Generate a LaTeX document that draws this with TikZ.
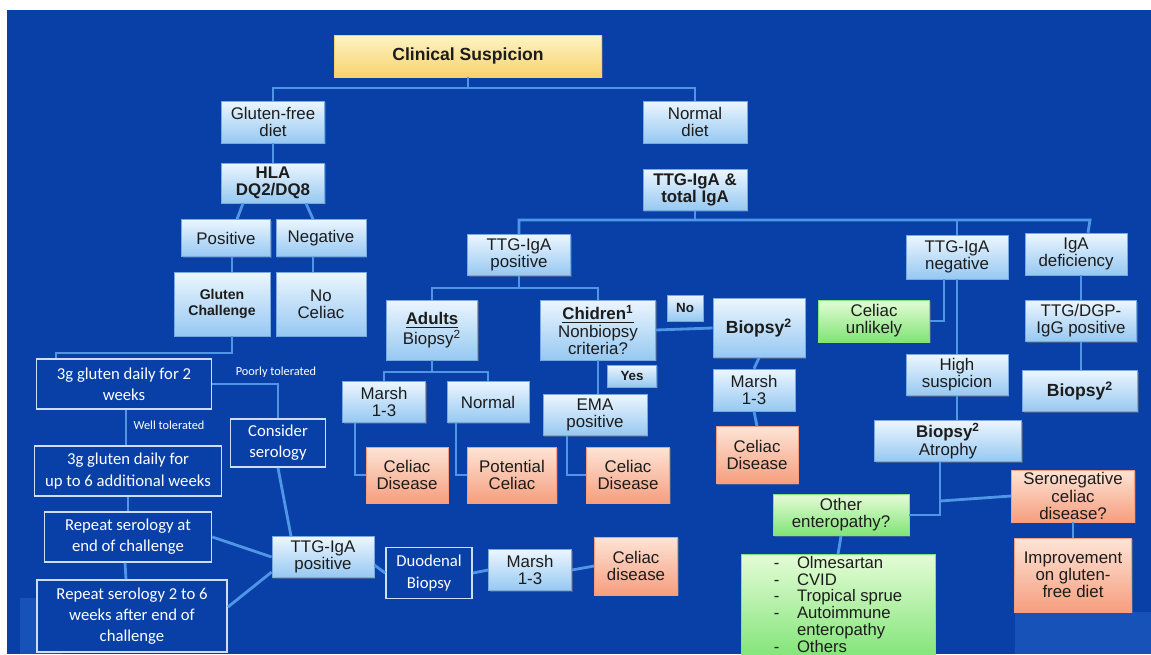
\documentclass[tikz,border=0pt]{standalone}
\usepackage{fontspec}
\setmainfont{Liberation Sans}
\newfontfamily\cfont{Carlito}
\usetikzlibrary{shadows}

\newcommand{\pxu}{0.02cm}
\definecolor{bgblue}{RGB}{9,64,168}
\definecolor{fadeblue}{RGB}{22,82,184}
\definecolor{linkblue}{RGB}{80,150,230}
\definecolor{boxtop}{RGB}{236,246,254}
\definecolor{boxbot}{RGB}{150,200,242}
\definecolor{boxline}{RGB}{120,170,225}
\definecolor{saltop}{RGB}{253,228,214}
\definecolor{salbot}{RGB}{246,158,126}
\definecolor{grntop}{RGB}{228,252,214}
\definecolor{grnbot}{RGB}{128,228,118}
\definecolor{yeltop}{RGB}{254,244,196}
\definecolor{yelbot}{RGB}{246,210,108}
\definecolor{darkline}{RGB}{205,222,245}
\definecolor{textdark}{RGB}{28,28,28}

\tikzset{
  sz/.style 2 args={minimum width=#1*\pxu, minimum height=#2*\pxu},
  lbox/.style={shade, top color=boxtop, bottom color=boxbot, draw=boxline,
    line width=0.4pt, align=center, text=textdark, inner sep=1pt,
    drop shadow={shadow xshift=0.8pt, shadow yshift=-0.8pt, opacity=0.45},
    font=\fontsize{9.6}{9.8}\selectfont},
  sbox/.style={lbox, top color=saltop, bottom color=salbot, draw=salbot},
  gbox/.style={lbox, top color=grntop, bottom color=grnbot, draw=grnbot},
  ybox/.style={lbox, top color=yeltop, bottom color=yelbot, draw=yelbot},
  dbox/.style={draw=darkline, line width=1pt, fill=bgblue, text=white,
    align=center, inner sep=1pt, font=\cfont\fontsize{9.5}{12}\selectfont},
  tagbox/.style={lbox, font=\bfseries\fontsize{7.6}{8}\selectfont},
  tag/.style={text=white, inner sep=0pt, font=\cfont\fontsize{7}{8}\selectfont},
  link/.style={draw=linkblue, line width=1.6pt},
}

\begin{document}
\begin{tikzpicture}[x=\pxu, y=-\pxu]
\useasboundingbox (0,0) rectangle (1151,654);
\fill[white] (0,0) rectangle (1151,654);
\fill[bgblue] (7,10) rectangle (1151,654);
\fill[fadeblue] (20,598) rectangle (62,654);
\fill[fadeblue] (1015,612) rectangle (1151,654);

% top of the tree
\node[ybox, sz={267}{42}, font=\bfseries\fontsize{10}{11}\selectfont] (clin) at (468,56) {Clinical Suspicion};
\node[lbox, sz={103}{42}] (gfd) at (273,122) {Gluten-free\\diet};
\node[lbox, sz={104}{42}] (nd) at (695,122) {Normal\\diet};
\node[lbox, sz={103}{40}, font=\bfseries\fontsize{9.6}{9.8}\selectfont] (hla) at (273,183) {HLA\\DQ2/DQ8};
\node[lbox, sz={104}{41}, font=\bfseries\fontsize{9.6}{9.8}\selectfont] (ttg) at (695,190) {TTG-IgA \&\\total IgA};

% gluten-free side
\node[lbox, sz={89}{37}] (pos) at (226,238) {Positive};
\node[lbox, sz={90}{37}] (neg) at (321,238) {Negative};
\node[lbox, sz={96}{64}, font=\bfseries\fontsize{8}{9.5}\selectfont] (gch) at (222,304) {Gluten\\Challenge};
\node[lbox, sz={90}{64}] (noc) at (321,304) {No\\Celiac};
\node[dbox, sz={175}{50}] (g2w) at (124,384) {3g gluten daily for 2\\weeks};
\node[dbox, sz={95}{48}] (cs) at (278,443) {Consider\\serology};
\node[dbox, sz={187}{50}] (g6w) at (128,471) {3g gluten daily for\\up to 6 additional weeks};
\node[dbox, sz={167}{50}] (rse) at (128,537) {Repeat serology at\\end of challenge};
\node[dbox, sz={190}{72}] (r26) at (132,616) {Repeat serology 2 to 6\\weeks after end of\\challenge};
\node[tag] (ptl) at (276,372) {Poorly tolerated};
\node[tag] (wtl) at (169,425) {Well tolerated};
\node[lbox, sz={102}{41}] (ttgl) at (323,557) {TTG-IgA\\positive};
\node[dbox, sz={86}{51}] (dbx) at (429,573) {Duodenal\\Biopsy};
\node[lbox, sz={83}{41}] (mb) at (530,570) {Marsh\\1-3};
\node[sbox, sz={83}{58}] (cdb) at (636,566) {Celiac\\disease};

% normal diet side
\node[lbox, sz={103}{41}] (tpos) at (519,255) {TTG-IgA\\positive};
\node[lbox, sz={91}{60}] (adl) at (432,330) {\textbf{\underline{Adults}}\\Biopsy\textsuperscript{2}};
\node[lbox, sz={115}{60}] (chd) at (598,330) {\textbf{\underline{Chidren\textsuperscript{1}}}\\Nonbiopsy\\criteria?};
\node[tagbox, sz={36}{26}] (no) at (685,308) {No};
\node[lbox, sz={92}{59}, font=\bfseries\fontsize{10}{11}\selectfont] (bmid) at (759,328) {Biopsy\textsuperscript{2}};
\node[tagbox, sz={49}{22}] (yes) at (632,376) {Yes};
\node[lbox, sz={83}{41}] (mad) at (384,402) {Marsh\\1-3};
\node[lbox, sz={82}{41}] (nrm) at (488,402) {Normal};
\node[lbox, sz={104}{41}] (ema) at (595,415) {EMA\\positive};
\node[sbox, sz={82}{56}] (cda) at (407,475) {Celiac\\Disease};
\node[sbox, sz={89}{56}] (pce) at (512,475) {Potential\\Celiac};
\node[sbox, sz={83}{56}] (cde) at (628,475) {Celiac\\Disease};
\node[lbox, sz={82}{42}] (mmid) at (754,390) {Marsh\\1-3};
\node[sbox, sz={82}{57}] (cdm) at (757,455) {Celiac\\Disease};

% negative and IgA deficiency
\node[lbox, sz={102}{44}] (tneg) at (957,257) {TTG-IgA\\negative};
\node[lbox, sz={102}{42}] (igad) at (1076,254) {IgA\\deficiency};
\node[gbox, sz={111}{42}] (cu) at (874,321) {Celiac\\unlikely};
\node[lbox, sz={102}{41}] (hs) at (957,375) {High\\suspicion};
\node[lbox, sz={147}{41}] (ba) at (948,441) {\textbf{Biopsy\textsuperscript{2}}\\Atrophy};
\node[lbox, sz={111}{41}] (dgp) at (1081,321) {TTG/DGP-\\IgG positive};
\node[lbox, sz={115}{41}, font=\bfseries\fontsize{10}{11}\selectfont] (brt) at (1080,391) {Biopsy\textsuperscript{2}};
\node[gbox, sz={136}{41}] (oe) at (841,515) {Other\\enteropathy?};
\node[sbox, sz={123}{52}] (sn) at (1073,496) {Seronegative\\celiac\\disease?};
\node[gbox, sz={194}{100}, font=\fontsize{9.5}{9.2}\selectfont] (lst) at (838,607) {\begin{tabular}{@{}l@{\hspace{10pt}}l@{}}
  - & Olmesartan\\ - & CVID\\ - & Tropical sprue\\ - & Autoimmune\\ & enteropathy\\ - & Others
  \end{tabular}};
\node[sbox, sz={117}{74}] (imp) at (1073,575) {Improvement\\on gluten-\\free diet};

% junctions
\coordinate (jtop) at (468,88);
\coordinate (jgc) at (232,353);
\coordinate (jttg) at (695,220);
\coordinate (jr) at (1090,220);
\coordinate (jtp) at (519,288);
\coordinate (jad) at (432,372);
\coordinate (jba) at (940,501);

% connectors
\draw[link] (clin.south) -- (jtop);
\draw[link] (gfd.north) |- (jtop) -| (nd.north);
\draw[link] (gfd.south) -- (hla.north);
\draw[link] ([xshift=-30*\pxu]hla.south) -- ([xshift=11*\pxu]pos.north);
\draw[link] ([xshift=33*\pxu]hla.south) -- ([xshift=-8*\pxu]neg.north);
\draw[link] ([xshift=6*\pxu]pos.south) -- ([xshift=10*\pxu]gch.north);
\draw[link] ([xshift=-8*\pxu]neg.south) -- ([xshift=-8*\pxu]noc.north);
\draw[link] ([xshift=10*\pxu]gch.south) -- (jgc) -| ([xshift=-68*\pxu]g2w.north);
\draw[link] (g2w.east) -| (cs.north);
\draw[link] ([xshift=2*\pxu]g2w.south) -- ([xshift=-2*\pxu]g6w.north);
\draw[link] (g6w.south) -- (rse.north);
\draw[link] ([xshift=-3*\pxu]rse.south) -- ([xshift=-6*\pxu]r26.north);
\draw[link] (cs.south) -- ([xshift=-32*\pxu]ttgl.north);
\draw[link] (rse.east) -- (ttgl.west);
\draw[link] ([yshift=9*\pxu]r26.east) -- ([yshift=-15*\pxu]ttgl.west);
\draw[link] ([yshift=-8*\pxu]ttgl.east) -- (dbx.west);
\draw[link] (dbx.east) -- (mb.west);
\draw[link] (mb.east) -- (cdb.west);
\draw[link] (ttg.south) -- (jttg);
\draw[link] (tpos.north) |- (jttg) -- (jr) -- ([xshift=12*\pxu]igad.north);
\draw[link] (tneg.north) -- (tneg.north |- jttg);
\draw[link] (tpos.south) -- (jtp);
\draw[link] (adl.north) |- (jtp) -| (chd.north);
\draw[link] (adl.south) -- (jad);
\draw[link] (mad.north) |- (jad) -| (nrm.north);
\draw[link] ([xshift=-29*\pxu]mad.south) |- (cda.west);
\draw[link] ([xshift=-32*\pxu]nrm.south) |- (pce.west);
\draw[link] (chd.south) -- (chd.south |- ema.north);
\draw[link] ([xshift=-28*\pxu]ema.south) |- (cde.west);
\draw[link] (chd.east) -- (bmid.west);
\draw[link] (bmid.south) -- (mmid.north);
\draw[link] (mmid.south) -- (cdm.north);
\draw[link] ([xshift=-13*\pxu]tneg.south) |- (cu.east);
\draw[link] (tneg.south) -- (hs.north);
\draw[link] (hs.south) -- (hs.south |- ba.north);
\draw[link] (dgp.north |- igad.south) -- (dgp.north);
\draw[link] (dgp.south) -- (dgp.south |- brt.north);
\draw[link] ([xshift=-8*\pxu]ba.south) |- (oe.east);
\draw[link] (jba) -- (sn.west);
\draw[link] (oe.south) -- (lst.north);
\draw[link] (sn.south) -- (imp.north);
\end{tikzpicture}
\end{document}
